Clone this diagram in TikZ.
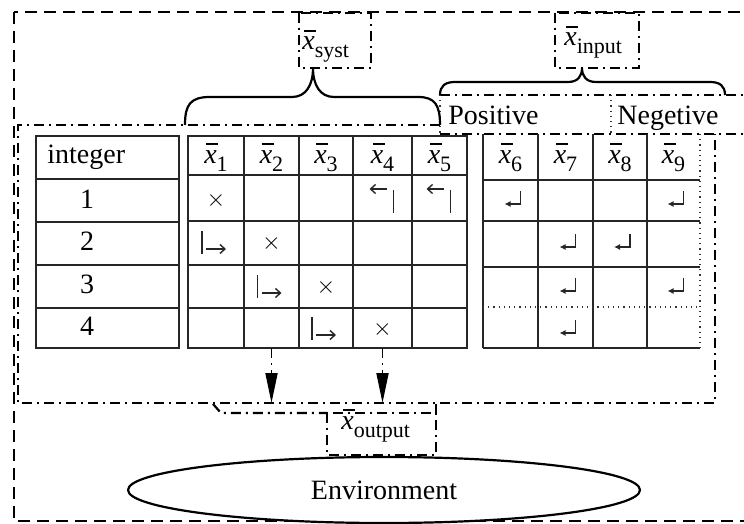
\documentclass[tikz,border=0pt]{standalone}
\usepackage{fontspec}
\setmainfont{Liberation Serif}
\usetikzlibrary{arrows.meta,shapes.geometric}

% barred italic x with a subscript
\newcommand{\xv}[1]{\makebox[0pt][l]{\hspace{0.07em}\rule[0.66em]{0.42em}{0.045em}}\textit{x}\raisebox{-4pt}{\fontsize{11}{12}\selectfont #1}}

\begin{document}
\begin{tikzpicture}[x=0.5pt,y=-0.5pt,
  font=\fontsize{14}{16}\selectfont,
  grid/.style={line width=0.8pt, draw=black!85},
  dotgrid/.style={line width=0.6pt, draw=black!80, dotted},
  dashdot/.style={line width=1.1pt, dash pattern=on 5pt off 2.5pt on 1pt off 2.5pt},
  outerline/.style={line width=1.1pt, dash pattern=on 6pt off 3.5pt},
  bracepath/.style={line width=1.1pt, line join=round},
  sym/.style={line width=0.7pt, draw=black!85},
  lbl/.style={inner sep=0pt, anchor=base},
  cross/.style={inner sep=0pt, font=\fontsize{12.5}{13}\selectfont},
  flow/.style={dashdot, line width=0.9pt, -{Triangle[length=15pt,width=6pt]}},
  rarr/.pic={\draw[sym] (-14,-12) -- (-14,11);
             \draw[sym,-{Straight Barb[length=2.5pt,width=4.5pt]}] (-10,6) -- (10,6);},
  larr/.pic={\draw[sym,-{Straight Barb[length=2.5pt,width=4.5pt]}] (4,-11) -- (-13,-11);
             \draw[sym] (11,-10) -- (11,13);},
  cret/.pic={\draw[sym,line width=0.6pt,-{Latex[length=3pt,width=3pt]}] (10,-9) -- (10,4) -- (-6,4);}
]
\useasboundingbox (0,0) rectangle (744,524);
\clip (0,0) rectangle (744,524);

% outer (environment) frame
\draw[outerline] (14,12) rectangle (780,521);

% system frame
\draw[dashdot] (440,125) -- (18,125) -- (18,403) -- (715,403) -- (715,134);

% positive / negative strip
\draw[dashdot] (440,95) -- (780,95);
\draw[dashdot] (440,134) -- (780,134);
\draw[dotgrid, line width=0.9pt] (440,95) -- (440,134);
\draw[dotgrid] (611,95) -- (611,134);
\node[lbl, anchor=base west] (pos) at (448,125) {Positive};
\node[lbl, anchor=base west] (neg) at (617,125) {Negetive};

% label boxes
\draw[dashdot] (299,13) rectangle (371,68);
\node[lbl, anchor=base west] (xsyst) at (302,50) {\xv{syst}};
\draw[dashdot] (555,13) rectangle (639,68);
\node[lbl, anchor=base west] (xinput) at (564,46) {\xv{input}};

% braces
\draw[bracepath] (185,125) .. controls (185,105) and (190,97) .. (210,97) -- (292,97)
  .. controls (306,97) and (313,85) .. (313,68)
  .. controls (313,85) and (320,97) .. (334,97) -- (418,97)
  .. controls (435,97) and (440,105) .. (440,125);
\draw[bracepath] (440,95) .. controls (440,86) and (445,82) .. (455,82) -- (568,82)
  .. controls (578,82) and (582,76) .. (582,68)
  .. controls (582,76) and (586,82) .. (596,82) -- (710,82)
  .. controls (720,82) and (725,86) .. (725,95);

% table: integer
\draw[grid] (36,136) rectangle (179,348);
\foreach \y in {179,222,265,308} \draw[grid] (36,\y) -- (179,\y);
\node[lbl, anchor=base west] (hint) at (47,163) {integer};
\node[lbl] (n1) at (87,208) {1};
\node[lbl] (n2) at (87,250) {2};
\node[lbl] (n3) at (87,293) {3};
\node[lbl] (n4) at (87,335) {4};

% table: system variables
\draw[grid] (188,136) rectangle (467,348);
\foreach \x in {244,299,353,412} \draw[grid] (\x,136) -- (\x,348);
\foreach \y in {175,221,265,308} \draw[grid] (188,\y) -- (467,\y);
\node[lbl] (h1) at (216,163) {\xv{1}};
\node[lbl] (h2) at (271.5,163) {\xv{2}};
\node[lbl] (h3) at (326,163) {\xv{3}};
\node[lbl] (h4) at (382.5,163) {\xv{4}};
\node[lbl] (h5) at (439.5,163) {\xv{5}};
\node[cross] (m11) at (216,200) {$\times$};
\node[cross] (m22) at (271.5,243) {$\times$};
\node[cross] (m33) at (326,287) {$\times$};
\node[cross] (m44) at (382.5,329) {$\times$};
\pic at (382.5,200) {larr};
\pic at (439.5,200) {larr};
\pic at (216,243) {rarr};
\pic at (271.5,287) {rarr};
\pic at (326,329) {rarr};

% table: input variables
\foreach \x in {483,538,593,647} \draw[grid] (\x,134) -- (\x,348);
\foreach \y in {180,221,267,348} \draw[grid] (483,\y) -- (700,\y);
\draw[dotgrid] (483,307) -- (700,307);
\draw[dotgrid] (700,134) -- (700,348);
\node[lbl] (h6) at (510.5,163) {\xv{6}};
\node[lbl] (h7) at (565.5,163) {\xv{7}};
\node[lbl] (h8) at (620,163) {\xv{8}};
\node[lbl] (h9) at (673.5,163) {\xv{9}};
\pic at (510.5,200) {cret};
\pic at (673.5,200) {cret};
\pic at (565.5,243) {cret};
\pic at (620,243) {cret};
\pic at (565.5,287) {cret};
\pic at (673.5,287) {cret};
\pic at (565.5,329) {cret};

% outputs leaving the system
\coordinate (s2) at (271.5,348);
\coordinate (o2) at (271.5,403);
\coordinate (s4) at (382.5,348);
\coordinate (o4) at (382.5,403);
\draw[flow] (s2) -- (o2);
\draw[flow] (s4) -- (o4);

% output label box
\draw[dashdot] (213,404) -- (221,413) -- (327,413);
\draw[dashdot] (327,413) rectangle (436,455);
\draw[dashdot] (436,404) -- (436,413);
\node[lbl, anchor=base west] (xout) at (341,429) {\xv{output}};

% environment
\node[draw, ellipse, line width=1.1pt, minimum width=256pt, minimum height=33pt, inner sep=0pt, fill=white] (env) at (384,490) {Environment};
\end{tikzpicture}
\end{document}
